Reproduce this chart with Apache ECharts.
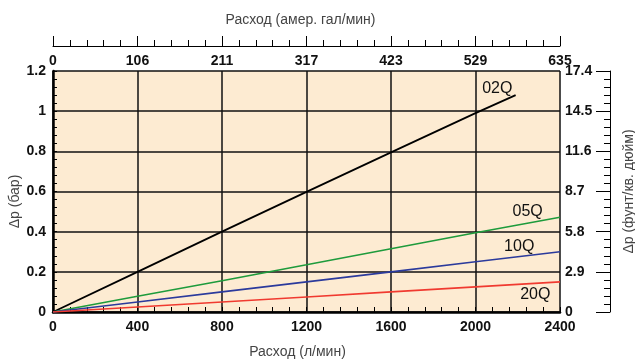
<!DOCTYPE html>
<html>
<head>
<meta charset="utf-8">
<script src="https://cdn.jsdelivr.net/npm/echarts@6/dist/echarts.min.js"></script>
<style>html,body{margin:0;padding:0;background:#fff}#c{width:635px;height:361px}</style>
</head>
<body>
<div id="c"></div>
<script>
// Data
var flow = [0, 400, 800, 1200, 1600, 2000, 2400];
var flow02 = [0, 400, 800, 1200, 1600, 2000, 2190];
var q02 = [0, 0.2, 0.4, 0.598, 0.795, 0.99, 1.08];
var q05 = [0, 0.078, 0.156, 0.235, 0.315, 0.395, 0.472];
var q10 = [0, 0.05, 0.1, 0.15, 0.2, 0.25, 0.3];
var q20 = [0, 0.025, 0.05, 0.075, 0.1, 0.125, 0.15];
var seriesNames = ['02Q', '05Q', '10Q', '20Q'];
var leftLabels = ['0', '0.2', '0.4', '0.6', '0.8', '1', '1.2'];
var rightLabels = ['0', '2.9', '5.8', '8.7', '11.6', '14.5', '17.4'];
var topLabels = ['0', '106', '211', '317', '423', '529', '635'];

function pairs(xs, ys) { return xs.map(function (x, i) { return [x, ys[i]]; }); }

var chart = echarts.init(document.getElementById('c'), null, {renderer: 'canvas'});
var FONT = 'Liberation Sans, Arial, sans-serif';
var tickLabel = {color: '#111', fontSize: 14, fontWeight: 'bold', fontFamily: FONT};
var nameStyle = {color: '#444', fontSize: 14, fontFamily: FONT};

function lbl(name, coord) {
  return {
    data: [{coord: coord, value: name}],
    symbol: 'rect', symbolSize: 1,
    itemStyle: {color: 'rgba(0,0,0,0)'},
    label: {show: true, position: 'inside', formatter: name, color: '#111', fontSize: 16, fontFamily: FONT},
    silent: true, animation: false
  };
}

var option = {
  animation: false,
  grid: {left: 53, right: 75, top: 71, bottom: 49, containLabel: false, outerBoundsMode: 'none', show: true, backgroundColor: '#FDEBD2', borderWidth: 0},
  xAxis: [
    {
      type: 'value', position: 'bottom', min: 0, max: 2400, interval: 400,
      axisLine: {show: true, onZero: false, lineStyle: {color: '#000', width: 2.5}},
      axisTick: {show: true, inside: true, length: 5, lineStyle: {color: '#000'}},
      minorTick: {show: true, splitNumber: 5, length: 5, lineStyle: {color: '#000'}},
      splitLine: {show: true, lineStyle: {color: '#111', width: 1.5}},
      axisLabel: Object.assign({margin: 8, formatter: function (v) { return String(v); }}, tickLabel),
      name: 'Расход (л/мин)', nameLocation: 'middle', nameGap: 33, nameMoveOverlap: false,
      nameTextStyle: Object.assign({padding: [0, 18, 0, 0]}, nameStyle)
    },
    {
      type: 'value', position: 'top', offset: 25, min: 0, max: 635, interval: 635 / 6,
      axisLine: {show: true, onZero: false, lineStyle: {color: '#000', width: 1}},
      axisTick: {show: true, inside: false, length: 10, lineStyle: {color: '#000'}},
      minorTick: {show: true, splitNumber: 5, length: 6, lineStyle: {color: '#000'}},
      splitLine: {show: false},
      axisLabel: Object.assign({inside: true, margin: 8, formatter: function (v) { return topLabels[Math.round(v / (635 / 6))]; }}, tickLabel),
      name: 'Расход (амер. гал/мин)', nameLocation: 'middle', nameGap: 19, nameMoveOverlap: false,
      nameTextStyle: Object.assign({padding: [0, 12, 0, 0]}, nameStyle)
    }
  ],
  yAxis: [
    {
      type: 'value', position: 'left', min: 0, max: 1.2, interval: 0.2,
      axisLine: {show: true, onZero: false, lineStyle: {color: '#000', width: 2.5}},
      axisTick: {show: true, inside: true, length: 4, lineStyle: {color: '#000'}},
      minorTick: {show: true, splitNumber: 5, length: 4, lineStyle: {color: '#000'}},
      splitLine: {show: true, lineStyle: {color: '#111', width: 1.5}},
      axisLabel: Object.assign({margin: 7, formatter: function (v) { return leftLabels[Math.round(v / 0.2)]; }}, tickLabel),
      name: 'Δp (бар)', nameLocation: 'middle', nameGap: 31, nameRotate: 90, nameMoveOverlap: false,
      nameTextStyle: Object.assign({padding: [0, 20, 0, 0]}, nameStyle)
    },
    {
      type: 'value', position: 'right', offset: 50, min: 0, max: 17.4, interval: 2.9,
      axisLine: {show: true, onZero: false, lineStyle: {color: '#000', width: 1}},
      axisTick: {show: true, inside: true, length: 14, lineStyle: {color: '#000'}},
      minorTick: {show: true, splitNumber: 5, length: 6, lineStyle: {color: '#000'}},
      splitLine: {show: false},
      axisLabel: Object.assign({inside: true, align: 'left', margin: 45, formatter: function (v) { return rightLabels[Math.round(v / 2.9)]; }}, tickLabel),
      name: 'Δp (фунт/кв. дюйм)', nameLocation: 'middle', nameGap: 12, nameRotate: 90, nameMoveOverlap: false, nameTextStyle: nameStyle
    }
  ],
  series: [
    {name: seriesNames[0], type: 'line', data: pairs(flow02, q02), showSymbol: false, lineStyle: {color: '#000', width: 1.8}, markPoint: lbl(seriesNames[0], [2103, 1.11])},
    {name: seriesNames[1], type: 'line', data: pairs(flow, q05), showSymbol: false, lineStyle: {color: '#1E9B3C', width: 1.6}, markPoint: lbl(seriesNames[1], [2247, 0.5])},
    {name: seriesNames[2], type: 'line', data: pairs(flow, q10), showSymbol: false, lineStyle: {color: '#2B3A9C', width: 1.6}, markPoint: lbl(seriesNames[2], [2207, 0.326])},
    {name: seriesNames[3], type: 'line', data: pairs(flow, q20), showSymbol: false, lineStyle: {color: '#F03A30', width: 1.6}, markPoint: lbl(seriesNames[3], [2283, 0.085])}
  ]
};
chart.setOption(option);
</script>
</body>
</html>
